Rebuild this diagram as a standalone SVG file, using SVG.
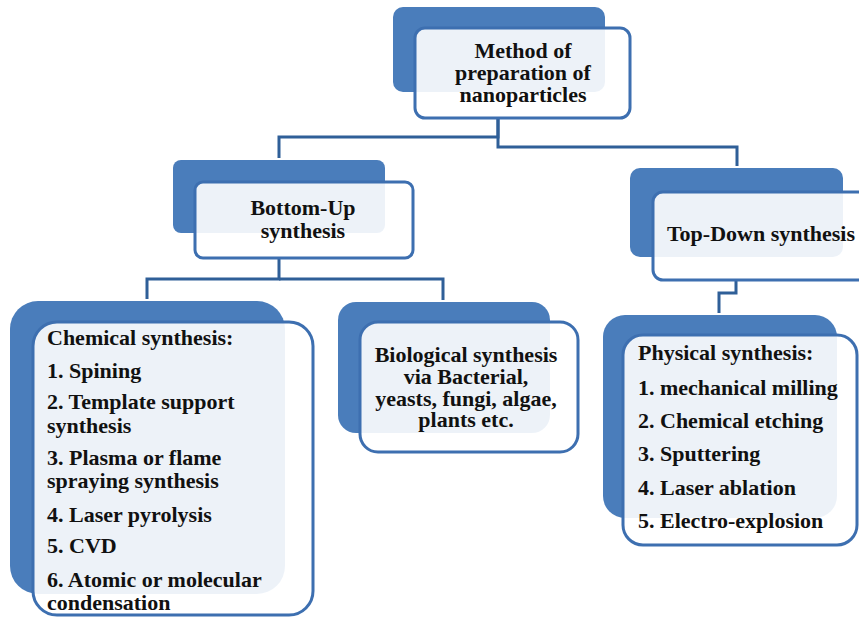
<svg xmlns="http://www.w3.org/2000/svg" width="859" height="620" viewBox="0 0 859 620">
<style>
.back{fill:#4a7dbb}
.front{fill:#ffffff;fill-opacity:0.9;stroke:#3d6fb0;stroke-width:3}
.conn{fill:none;stroke:#2f5f98;stroke-width:3}
text{font-family:'Liberation Serif','Times New Roman','DejaVu Serif',serif;font-weight:bold;font-size:22px;fill:#111}
.c{text-anchor:middle}
</style>
<rect width="859" height="620" fill="#ffffff"/>
<g id="connectors">
<path class="conn" d="M498 118 V137 H279 V158"/>
<path class="conn" d="M498 118 V147 H737 V166"/>
<path class="conn" d="M279 258 V279 H147 V299"/>
<path class="conn" d="M279 279 H443 V300"/>
<path class="conn" d="M736 280 V293 H719 V313"/>
</g>
<g id="node-method">
<rect class="back" x="393" y="7" width="212" height="85" rx="10"/>
<rect class="front" x="415" y="28" width="215" height="90" rx="10"/>
<text class="c" x="523" y="58" font-family="Liberation Serif, serif">Method of</text>
<text class="c" x="523" y="80">preparation of</text>
<text class="c" x="523" y="102">nanoparticles</text>
</g>
<g id="node-bottomup">
<rect class="back" x="173" y="160" width="212" height="73" rx="8"/>
<rect class="front" x="195" y="182" width="218" height="76" rx="8"/>
<text class="c" x="303" y="215">Bottom-Up</text>
<text class="c" x="303" y="238">synthesis</text>
</g>
<g id="node-topdown">
<rect class="back" x="630" y="168" width="213" height="89" rx="10"/>
<rect class="front" x="653" y="192" width="220" height="88" rx="10"/>
<text class="c" x="761" y="241">Top-Down synthesis</text>
</g>
<g id="node-chemical">
<rect class="back" x="10" y="301" width="275" height="293" rx="28"/>
<rect class="front" x="33" y="322" width="280" height="293" rx="24"/>
<text x="47" y="345">Chemical synthesis:</text>
<text x="47" y="378">1. Spining</text>
<text x="47" y="409">2. Template support</text>
<text x="47" y="433">synthesis</text>
<text x="47" y="465">3. Plasma or flame</text>
<text x="47" y="488">spraying synthesis</text>
<text x="47" y="522">4. Laser pyrolysis</text>
<text x="47" y="553">5. CVD</text>
<text x="47" y="587">6. Atomic or molecular</text>
<text x="47" y="610">condensation</text>
</g>
<g id="node-biological">
<rect class="back" x="338" y="302" width="212" height="131" rx="18"/>
<rect class="front" x="360" y="322" width="218" height="130" rx="18"/>
<text class="c" x="466" y="362">Biological synthesis</text>
<text class="c" x="466" y="384">via Bacterial,</text>
<text class="c" x="466" y="406">yeasts, fungi, algae,</text>
<text class="c" x="466" y="427">plants etc.</text>
</g>
<g id="node-physical">
<rect class="back" x="603" y="315" width="234" height="203" rx="22"/>
<rect class="front" x="623" y="335" width="234" height="210" rx="20"/>
<text x="638" y="360">Physical synthesis:</text>
<text x="638" y="395">1. mechanical milling</text>
<text x="638" y="428">2. Chemical etching</text>
<text x="638" y="461">3. Sputtering</text>
<text x="638" y="495">4. Laser ablation</text>
<text x="638" y="528">5. Electro-explosion</text>
</g>
</svg>
